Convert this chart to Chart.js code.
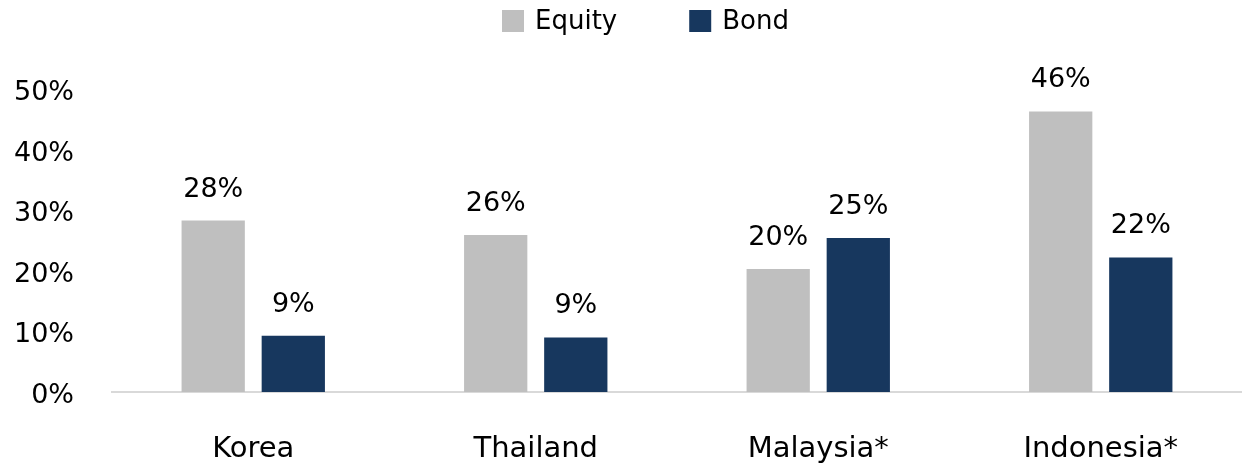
<!DOCTYPE html>
<html>
<head>
<meta charset="utf-8">
<script src="https://cdn.jsdelivr.net/npm/chart.js@4.4.0/dist/chart.umd.min.js"></script>
<style>
  html, body { margin: 0; padding: 0; background: #fff; }
  #wrap { width: 1242px; height: 469px; }
</style>
</head>
<body>
<div id="wrap"><canvas id="chart"></canvas></div>
<script>
// данные (%)
var countries = ['Korea', 'Thailand', 'Malaysia*', 'Indonesia*'];
var equityShare = [28.3, 25.9, 20.3, 46.3];
var bondShare = [9.3, 9.0, 25.4, 22.2];
var yTicks = [0, 10, 20, 30, 40, 50];

var FONT = "'DejaVu Sans', 'Noto Sans', sans-serif";

// подписи значений над столбиками
var valueLabels = {
    id: 'valueLabels',
    afterDatasetsDraw: function(chart) {
        var ctx = chart.ctx;
        ctx.save();
        ctx.font = '27px ' + FONT;
        ctx.fillStyle = '#000';
        ctx.textAlign = 'center';
        ctx.textBaseline = 'middle';
        chart.data.datasets.forEach(function(ds, i) {
            chart.getDatasetMeta(i).data.forEach(function(bar, j) {
                ctx.fillText(Math.round(ds.data[j]) + '%', bar.x, bar.y - 31);
            });
        });
        ctx.restore();
    }
};

// легенда сверху, рисуем сами чтобы выставить отступы
var topLegend = {
    id: 'topLegend',
    afterDraw: function(chart) {
        var ctx = chart.ctx;
        var x = 502, y = 21, box = 22, gap = 11, itemGap = 72;
        ctx.save();
        ctx.font = '26px ' + FONT;
        ctx.textBaseline = 'middle';
        ctx.textAlign = 'left';
        chart.data.datasets.forEach(function(ds) {
            ctx.fillStyle = ds.backgroundColor;
            ctx.fillRect(x, y - box / 2, box, box);
            ctx.fillStyle = '#000';
            ctx.fillText(ds.label, x + box + gap, y + 1);
            x += box + gap + ctx.measureText(ds.label).width + itemGap;
        });
        ctx.restore();
    }
};

new Chart(document.getElementById('chart'), {
    type: 'bar',
    data: {
        labels: countries,
        datasets: [
            { label: 'Equity', data: equityShare, backgroundColor: '#BFBFBF' },
            { label: 'Bond', data: bondShare, backgroundColor: '#17375E' },
        ],
    },
    options: {
        responsive: true,
        maintainAspectRatio: false,
        animation: false,
        events: [],
        layout: { padding: { top: 89, left: 0, right: -5, bottom: 0 } },
        categoryPercentage: 0.567,
        barPercentage: 0.79,
        plugins: { legend: { display: false }, tooltip: { enabled: false } },
        scales: {
            x: {
                grid: { display: false, drawTicks: false },
                border: { display: true, color: '#D9D9D9', width: 2 },
                ticks: { color: '#000', padding: 40, font: { family: FONT, size: 29 } },
                afterFit: function(scale) { scale.height = 77; },
            },
            y: {
                min: 0,
                max: 50,
                grid: { display: false, drawTicks: false },
                border: { display: false },
                afterBuildTicks: function(scale) {
                    scale.ticks = yTicks.map(function(v) { return { value: v }; });
                },
                ticks: {
                    color: '#000',
                    padding: 38,
                    labelOffset: 4,
                    font: { family: FONT, size: 27 },
                    callback: function(v) { return v + '%'; },
                },
                afterFit: function(scale) { scale.width = 112; },
            },
        },
    },
    plugins: [valueLabels, topLegend],
});
</script>
</body>
</html>
